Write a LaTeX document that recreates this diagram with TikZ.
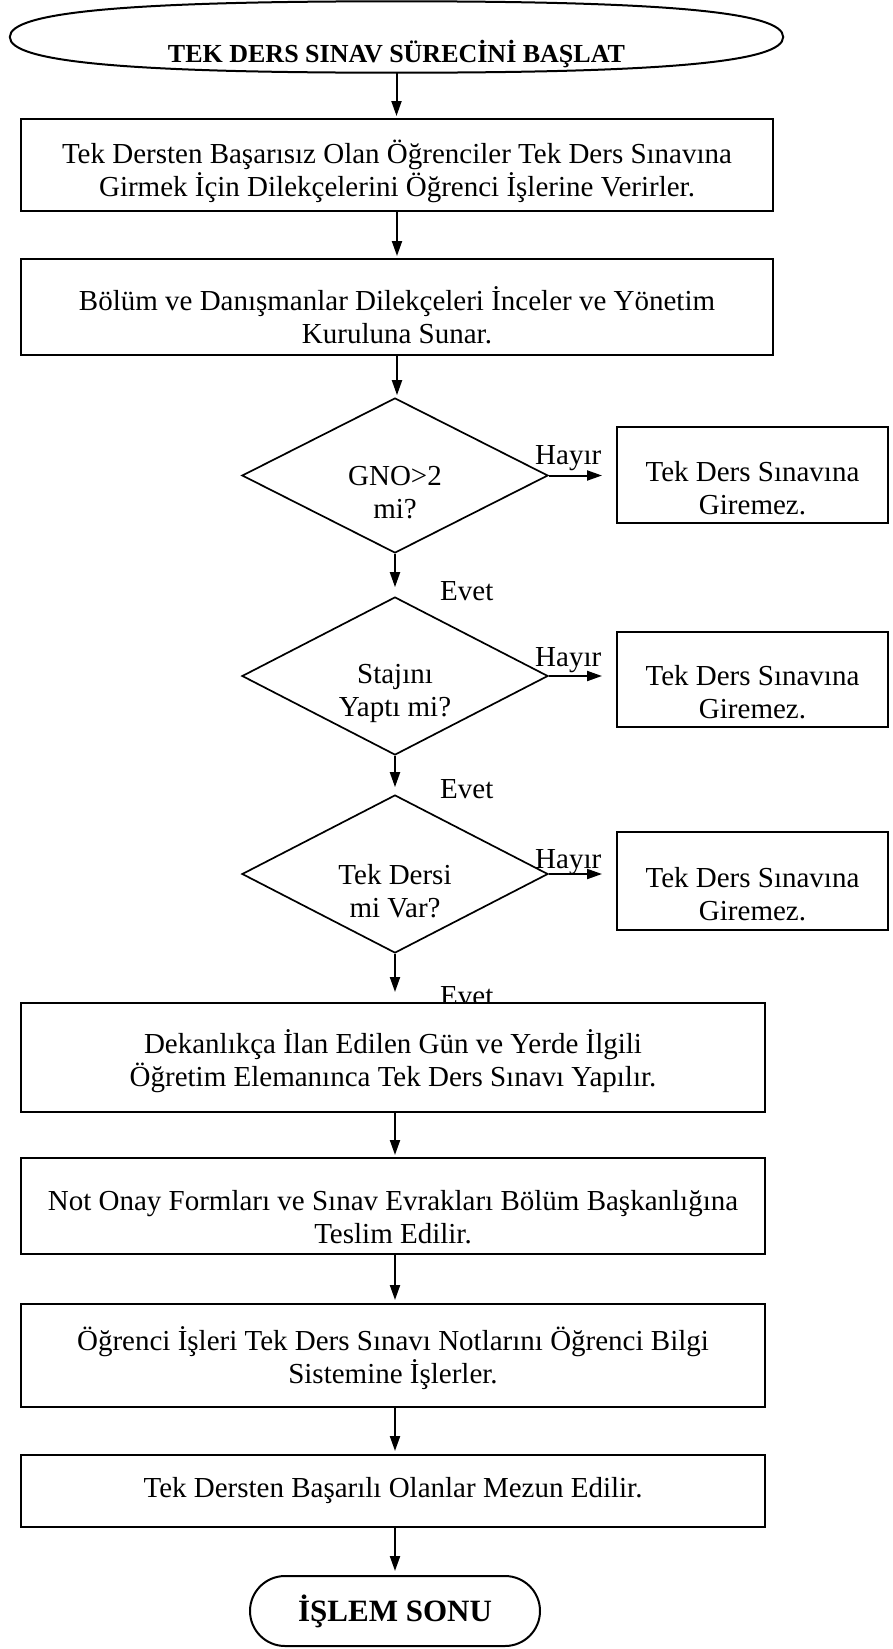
\documentclass[tikz,border=0pt]{standalone}
\usepackage{fontspec}
\setmainfont{Liberation Serif}
\usetikzlibrary{shapes.geometric,arrows.meta}

\begin{document}
\begin{tikzpicture}[
        x=1pt, y=-1pt,
        every node/.style={font=\fontsize{29}{33}\selectfont},
        box/.style={draw, line width=2pt, fill=white, inner sep=0pt},
        decision/.style={draw, diamond, line width=1.7pt, inner sep=0pt},
        txt/.style={align=center, inner sep=0pt},
        arr/.style={-{Triangle[length=15pt,width=10pt]}, line width=2pt},
        lbl/.style={inner sep=0pt},
    ]
    \useasboundingbox (0,0) rectangle (893,1649);
    % start
    \node[minimum width=773pt, minimum height=71pt, inner sep=0pt,
        label={[txt, yshift=-17pt, font=\fontsize{26}{30}\selectfont\bfseries]center:TEK DERS SINAV SÜRECİNİ BAŞLAT}] (start) at (396.5,37) {};
    \draw[line width=2pt] (start.west) .. controls +(0,-25) and +(-270,0) .. (start.north)
        .. controls +(270,0) and +(0,-25) .. (start.east)
        .. controls +(0,25) and +(270,0) .. (start.south)
        .. controls +(-270,0) and +(0,25) .. (start.west);
    \node[box, minimum width=752pt, minimum height=92pt,
        label={[txt, yshift=-6pt]center:{Tek Dersten Başarısız Olan Öğrenciler Tek Ders Sınavına\\Girmek İçin Dilekçelerini Öğrenci İşlerine Verirler.}}] (dilekce) at (397,165) {};
    \node[box, minimum width=752pt, minimum height=96pt,
        label={[txt, yshift=-8pt]center:{Bölüm ve Danışmanlar Dilekçeleri İnceler ve Yönetim\\Kuruluna Sunar.}}] (inceleme) at (397,307) {};
    % decisions
    \node[decision, minimum width=306pt, minimum height=155pt,
        label={[txt, yshift=-17pt]center:{GNO>2\\mi?}}] (gno) at (395,475.5) {};
    \node[box, minimum width=271pt, minimum height=96pt,
        label={[txt, yshift=-13pt]center:{Tek Ders Sınavına\\Giremez.}}] (red1) at (752.5,475) {};
    \node[lbl, anchor=base west] (hayir1) at (535,464) {Hayır};
    \node[lbl, anchor=base west] (evet1) at (440,600) {Evet};
    \node[decision, minimum width=306pt, minimum height=158pt,
        label={[txt, yshift=-17pt]center:{Stajını\\Yaptı mi?}}] (staj) at (395,676) {};
    \node[box, minimum width=271pt, minimum height=95pt,
        label={[txt, yshift=-13pt]center:{Tek Ders Sınavına\\Giremez.}}] (red2) at (752.5,679.5) {};
    \node[lbl, anchor=base west] (hayir2) at (535,666) {Hayır};
    \node[lbl, anchor=base west] (evet2) at (440,798) {Evet};
    \node[decision, minimum width=306pt, minimum height=158pt,
        label={[txt, yshift=-17pt]center:{Tek Dersi\\mi Var?}}] (tekders) at (395,874) {};
    \node[box, minimum width=271pt, minimum height=98pt,
        label={[txt, yshift=-13pt]center:{Tek Ders Sınavına\\Giremez.}}] (red3) at (752.5,881) {};
    \node[lbl, anchor=base west] (hayir3) at (535,868) {Hayır};
    \node[lbl, anchor=base west] (evet3) at (440,1005) {Evet};
    % exam steps
    \node[box, minimum width=744pt, minimum height=109pt,
        label={[txt, yshift=-4pt]center:{Dekanlıkça İlan Edilen Gün ve Yerde İlgili\\Öğretim Elemanınca Tek Ders Sınavı Yapılır.}}] (sinav) at (393,1057.5) {};
    \node[box, minimum width=744pt, minimum height=96pt,
        label={[txt, yshift=-11pt]center:{Not Onay Formları ve Sınav Evrakları Bölüm Başkanlığına\\Teslim Edilir.}}] (teslim) at (393,1206) {};
    \node[box, minimum width=744pt, minimum height=103pt,
        label={[txt, yshift=-3pt]center:{Öğrenci İşleri Tek Ders Sınavı Notlarını Öğrenci Bilgi\\Sistemine İşlerler.}}] (obs) at (393,1355.5) {};
    \node[box, minimum width=744pt, minimum height=72pt,
        label={[txt]center:{Tek Dersten Başarılı Olanlar Mezun Edilir.}}] (mezun) at (393,1491) {};
    \node[draw, line width=2pt, rounded corners=35pt, minimum width=290pt, minimum height=70pt, inner sep=0pt,
        font=\fontsize{31}{36}\selectfont\bfseries] (son) at (395,1611) {İŞLEM SONU};

    \draw[arr, shorten >=2pt] (start.south) -- (start.south |- dilekce.north);
    \draw[arr, shorten >=2pt] (dilekce.south) -- (dilekce.south |- inceleme.north);
    \draw[arr, shorten >=2pt] (inceleme.south) -- (inceleme.south |- gno.north);
    \draw[arr, shorten >=9pt] (gno.south) -- (staj.north);
    \draw[arr, shorten >=7pt] (staj.south) -- (tekders.north);
    \draw[arr, shorten >=10pt] (tekders.south) -- (tekders.south |- sinav.north);
    \draw[arr, shorten >=2pt] (sinav.south -| tekders.south) -- (tekders.south |- teslim.north);
    \draw[arr, shorten >=3pt] (teslim.south -| tekders.south) -- (tekders.south |- obs.north);
    \draw[arr, shorten >=3pt] (obs.south -| tekders.south) -- (tekders.south |- mezun.north);
    \draw[arr, shorten >=4pt] (mezun.south -| son.north) -- (son.north);
    % no branches
    \draw[arr, shorten >=14pt] (gno.east) -- (gno.east -| red1.west);
    \draw[arr, shorten >=14pt] (staj.east) -- (staj.east -| red2.west);
    \draw[arr, shorten >=14pt] (tekders.east) -- (tekders.east -| red3.west);
\end{tikzpicture}
\end{document}
